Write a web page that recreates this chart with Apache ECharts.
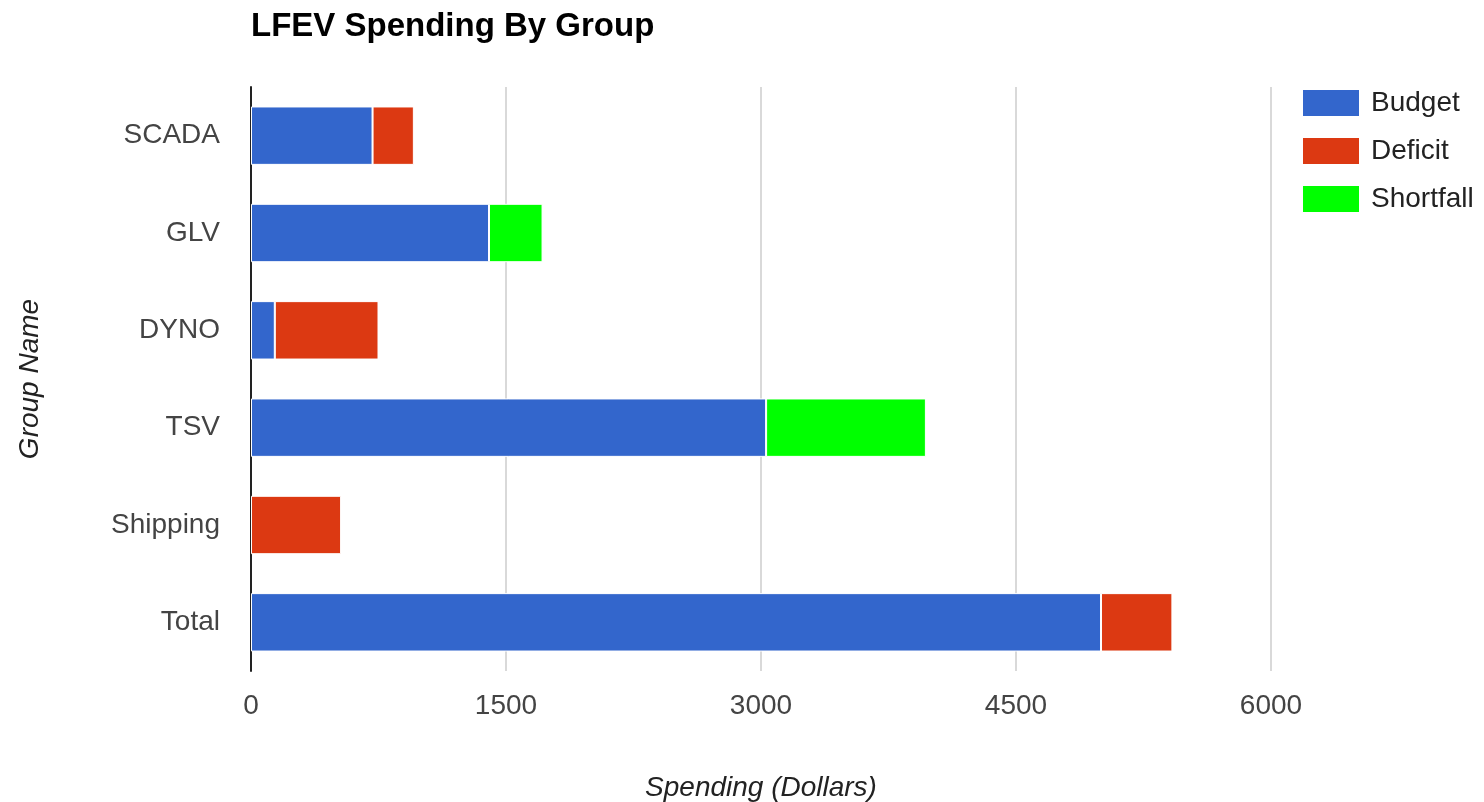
<!DOCTYPE html>
<html>
<head>
<meta charset="utf-8">
<title>LFEV Spending By Group</title>
<script src="https://cdn.jsdelivr.net/npm/echarts@6/dist/echarts.min.js"></script>
<style>
  html, body { margin: 0; padding: 0; background: #fff; }
  #chart { width: 1484px; height: 802px; }
</style>
</head>
<body>
<div id="chart"></div>
<script>
// Groups, listed top to bottom
const groups = ['SCADA', 'GLV', 'DYNO', 'TSV', 'Shipping', 'Total'];

// Stacked spending per group (dollars)
const budget    = [715, 1400, 140, 3030, 0, 5000];
const deficit   = [243, 0, 610, 0, 530, 420];
const shortfall = [0, 315, 0, 940, 0, 0];

// Value axis ticks
const spendTicks = [0, 1500, 3000, 4500, 6000];

const FONT = '"Liberation Sans", Arial, Helvetica, sans-serif';

const chart = echarts.init(document.getElementById('chart'), null, { renderer: 'canvas' });

// Zero-valued segments are left out so they leave no white hairline
function stackSeries(name, values, color) {
  return {
    name: name,
    type: 'bar',
    stack: 'spend',
    data: values.map(function (v) { return v === 0 ? '-' : v; }),
    barCategoryGap: '40%',
    itemStyle: { color: color, borderColor: '#ffffff', borderWidth: 1 },
    emphasis: { disabled: true }
  };
}

chart.setOption({
  animation: false,
  backgroundColor: '#ffffff',
  textStyle: { fontFamily: FONT },
  title: {
    text: 'LFEV Spending By Group',
    left: 246,
    top: 5,
    textStyle: { fontFamily: FONT, fontSize: 33, fontWeight: 'bold', color: '#000000' }
  },
  legend: {
    orient: 'vertical',
    left: 1301,
    top: 88,
    padding: 0,
    icon: 'rect',
    itemWidth: 58,
    itemHeight: 28,
    itemGap: 18,
    selectedMode: false,
    textStyle: { fontFamily: FONT, fontSize: 28, color: '#222222', padding: [0, 0, 0, 6] },
    data: ['Budget', 'Deficit', 'Shortfall']
  },
  grid: {
    left: 251,
    right: 213,
    top: 87,
    bottom: 131,
    containLabel: false,
    outerBoundsMode: 'none'
  },
  xAxis: {
    type: 'value',
    min: spendTicks[0],
    max: spendTicks[spendTicks.length - 1],
    interval: spendTicks[1] - spendTicks[0],
    name: 'Spending (Dollars)',
    nameLocation: 'middle',
    nameGap: 103,
    nameTextStyle: { fontFamily: FONT, fontSize: 28, fontStyle: 'italic', color: '#222222' },
    axisLine: { show: false },
    axisTick: { show: false },
    axisLabel: {
      fontFamily: FONT, fontSize: 28, color: '#444444', margin: 21,
      formatter: function (v) { return String(v); }
    },
    splitLine: { show: true, lineStyle: { color: '#cccccc', width: 1.5 } }
  },
  yAxis: {
    type: 'category',
    data: groups,
    inverse: true,
    name: 'Group Name',
    nameLocation: 'middle',
    nameGap: 207,
    nameTextStyle: { fontFamily: FONT, fontSize: 28, fontStyle: 'italic', color: '#222222' },
    axisLine: { show: true, lineStyle: { color: '#222222', width: 2 } },
    axisTick: { show: false },
    axisLabel: { fontFamily: FONT, fontSize: 28, color: '#444444', margin: 31 },
    splitLine: { show: false }
  },
  series: [
    stackSeries('Budget', budget, '#3366cc'),
    stackSeries('Deficit', deficit, '#dc3912'),
    stackSeries('Shortfall', shortfall, '#00ff00')
  ]
});
</script>
</body>
</html>
